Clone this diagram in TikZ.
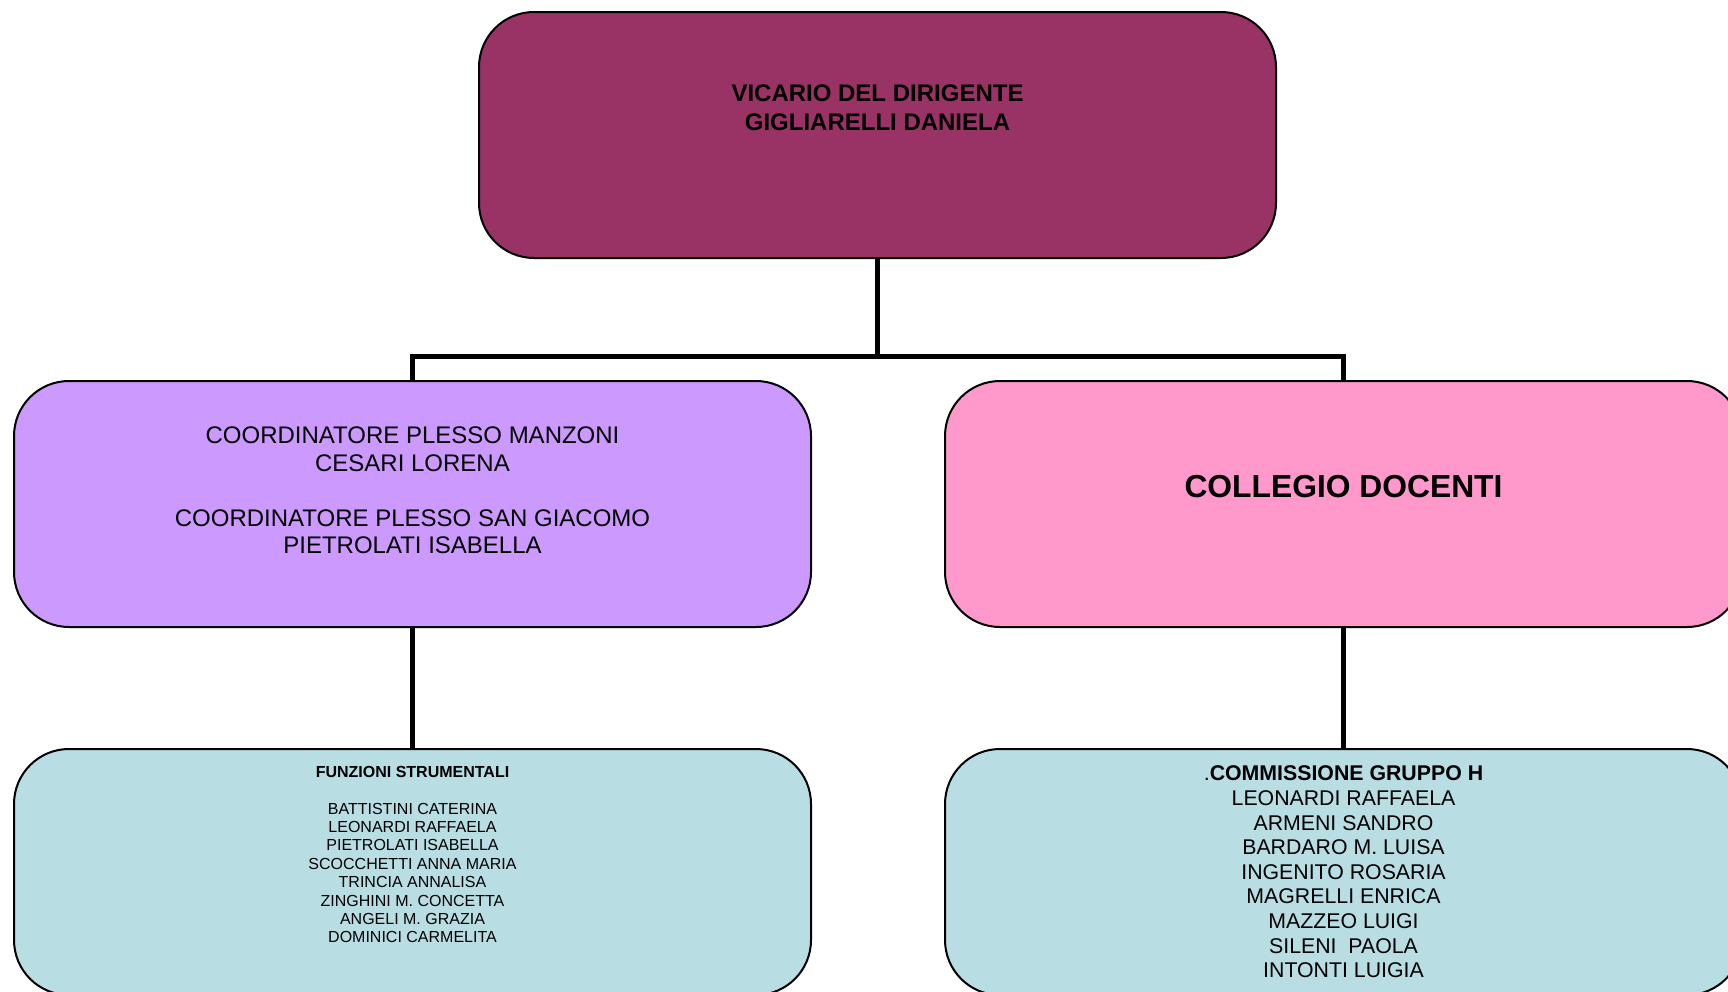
\documentclass[tikz,border=0pt]{standalone}
\usepackage{fontspec}
\setmainfont{Liberation Sans}
\usetikzlibrary{positioning, calc}

\definecolor{plum}{HTML}{993366}
\definecolor{lilac}{HTML}{CC99FF}
\definecolor{rosa}{HTML}{FF99CC}
\definecolor{acqua}{RGB}{184,222,228}

\begin{document}
\begin{tikzpicture}[
        x=1pt, y=1pt,
        box/.style={rectangle, draw, line width=2pt, rounded corners=55pt, minimum width=797pt, minimum height=246pt, inner sep=0pt},
        txt/.style={align=center, inner sep=0pt},
        small/.style={font=\fontsize{16}{18.4}\selectfont},
        link/.style={line width=5pt}
    ]
        \useasboundingbox (0,0) rectangle (1728,-991);

        % 1. Vicario
        \node (vicario) [box, fill=plum] at (877.5,-135) {};
        \node (vicario_txt) [txt, font=\fontsize{24}{28.7}\selectfont\bfseries] at ($(vicario.center)+(0,27)$) {VICARIO DEL DIRIGENTE \\ GIGLIARELLI DANIELA};

        % 2. Coordinatori / Collegio
        \node (plesso) [box, fill=lilac] at (412.5,-504) {};
        \node (plesso_txt) [txt, font=\fontsize{24}{27.5}\selectfont] at ($(plesso.center)+(0,13.6)$) {COORDINATORE PLESSO MANZONI \\ CESARI LORENA \\[27.5pt] COORDINATORE PLESSO SAN GIACOMO \\ PIETROLATI ISABELLA};

        \node (collegio) [box, fill=rosa] at (1343.5,-504) {};
        \node (collegio_txt) [txt, font=\fontsize{31.8}{36}\selectfont\bfseries] at ($(collegio.center)+(0,17)$) {COLLEGIO DOCENTI};

        % 3. Funzioni / Commissione
        \node (funzioni) [box, fill=acqua] at (412.5,-872) {};
        \node (funzioni_txt) [txt, small] at ($(funzioni.center)+(0,17.4)$) {\textbf{FUNZIONI STRUMENTALI} \\[18.4pt] BATTISTINI CATERINA \\ LEONARDI RAFFAELA \\ PIETROLATI ISABELLA \\ SCOCCHETTI ANNA MARIA \\ TRINCIA ANNALISA \\ ZINGHINI M. CONCETTA \\ ANGELI M. GRAZIA \\ DOMINICI CARMELITA};

        \node (gruppo_h) [box, fill=acqua] at (1343.5,-872) {};
        \node (gruppo_h_txt) [txt, font=\fontsize{21.3}{24.6}\selectfont] at ($(gruppo_h.center)+(0,0)$) {.\textbf{COMMISSIONE GRUPPO H} \\ LEONARDI RAFFAELA \\ ARMENI SANDRO \\ BARDARO M. LUISA \\ INGENITO ROSARIA \\ MAGRELLI ENRICA \\ MAZZEO LUIGI \\ SILENI~~PAOLA \\ INTONTI LUIGIA};

        % Connections
        \coordinate (split) at ($(vicario.south)+(0,-97)$);
        \draw [link] (vicario.south) -- (split);
        \draw [link] (split) -| (plesso.north);
        \draw [link] (split) -| (collegio.north);

        \draw [link] (plesso) -- (funzioni);
        \draw [link] (collegio) -- (gruppo_h);

    \end{tikzpicture}
\end{document}
